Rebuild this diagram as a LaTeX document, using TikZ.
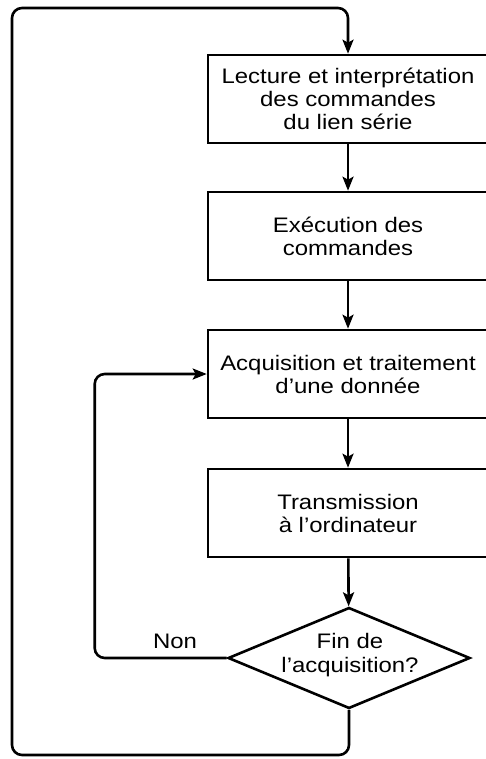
\documentclass[tikz,border=0pt]{standalone}
\usepackage{fontspec}
\setmainfont[FakeStretch=1.14]{Liberation Sans}
\usepackage{tikz}
\usetikzlibrary{arrows.meta,shapes.geometric}

\begin{document}
\begin{tikzpicture}[x=1pt, y=-1pt, line width=2.6pt,
    every node/.style={font=\fontsize{21pt}{23pt}\selectfont, align=center},
    etape/.style={draw, rectangle, minimum width=280pt, minimum height=88pt, inner sep=0pt},
    test/.style={draw, diamond, minimum width=242pt, minimum height=101pt, inner sep=0pt},
    fleche/.style={-{Stealth[length=14pt,width=11pt,inset=3pt]}, rounded corners=10pt}]
    \useasboundingbox (0,0) rectangle (486,759);
    % Boxes
    \node[etape] (lect) at (348,99) {Lecture et interprétation\\des commandes\\du lien série};
    \node[etape] (exec) at (348,236) {Exécution des\\commandes};
    \node[etape] (acq) at (348,374) {Acquisition et traitement\\d’une donnée};
    \node[etape] (trans) at (348,513) {Transmission\\à l’ordinateur};
    % Decision
    \node[test] (fin) at (349,658) {};
    \node[font=\fontsize{21pt}{24pt}\selectfont] (fintxt) at (350,655) {Fin de\\l’acquisition?};
    \node (non) at (175,641) {Non};
    % Loop corners
    \coordinate (bas) at (12,755);
    \coordinate (haut) at (12,8);
    % Arrows
    \draw[fleche] (lect) -- (exec);
    \draw[fleche] (exec) -- (acq);
    \draw[fleche] (acq) -- (trans);
    \draw[fleche] (trans) -- (fin);
    \draw[fleche] (fin.west) -- ++(-132,0) |- (acq.west);
    \draw[fleche] (fin.south) |- (bas) -- (haut) -| (lect.north);
\end{tikzpicture}
\end{document}
